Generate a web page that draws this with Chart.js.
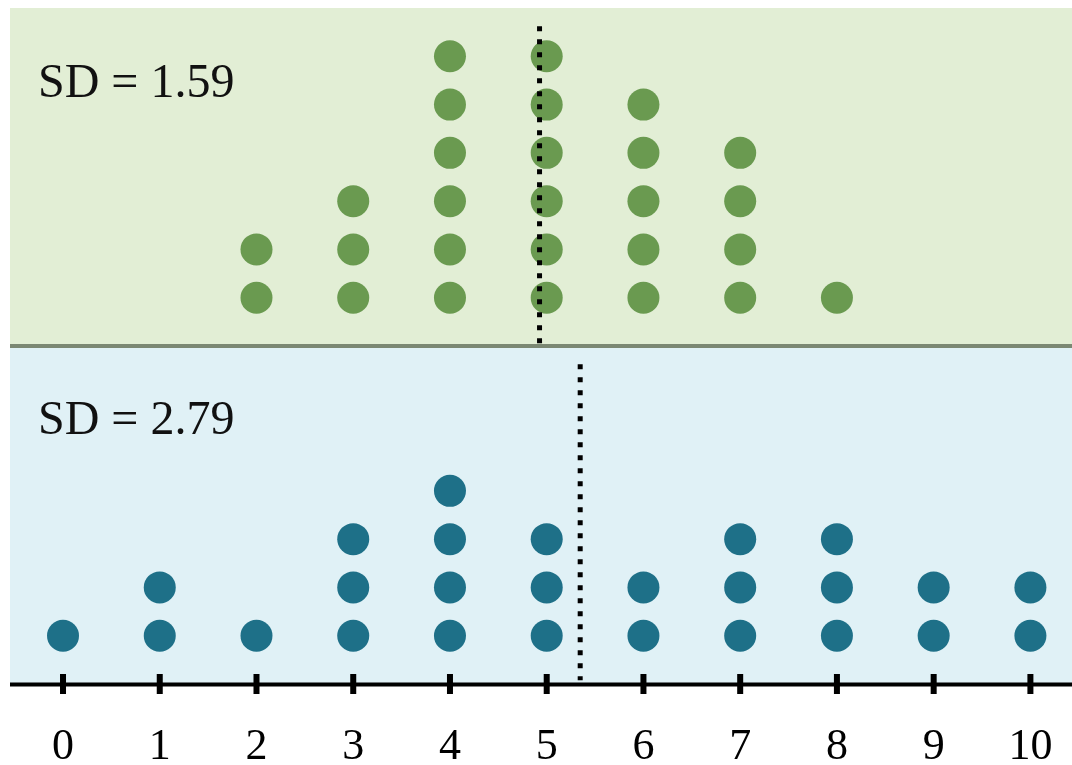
<!DOCTYPE html>
<html>
<head>
<meta charset="utf-8">
<script src="https://cdn.jsdelivr.net/npm/chart.js@4.4.0/dist/chart.umd.min.js"></script>
<style>
  html, body { margin: 0; padding: 0; background: #fff; }
  #wrap { width: 1072px; height: 765px; }
</style>
</head>
<body>
<div id="wrap"><canvas id="dotChart"></canvas></div>
<script>
// Values: how many dots sit at each x value
const xValues = [0, 1, 2, 3, 4, 5, 6, 7, 8, 9, 10];
const tickLabels = ['0', '1', '2', '3', '4', '5', '6', '7', '8', '9', '10'];
const topCounts = [0, 0, 2, 3, 6, 6, 5, 4, 1, 0, 0];
const bottomCounts = [1, 2, 1, 3, 4, 3, 2, 3, 3, 2, 2];
const sdLabels = ['SD = 1.59', 'SD = 2.79'];

const TOP_OFFSET = 7; // top panel stacks start above the divider
const SERIF = '"Liberation Serif", "DejaVu Serif", serif';

// one point per dot, stacked upward from the panel floor
function stackPoints(counts, offset) {
  const pts = [];
  counts.forEach((c, i) => {
    for (let k = 1; k <= c; k++) pts.push({ x: xValues[i], y: offset + k });
  });
  return pts;
}

function mean(counts) {
  let n = 0, s = 0;
  counts.forEach((c, i) => { n += c; s += c * xValues[i]; });
  return s / n;
}

const topMean = mean(topCounts);
const bottomMean = mean(bottomCounts);

// panel backgrounds, divider, axis line, tick marks and SD labels
const panels = {
  id: 'panels',
  beforeDatasetsDraw(chart) {
    const { ctx, chartArea: a, scales: { y } } = chart;
    const yDiv = y.getPixelForValue(TOP_OFFSET);
    ctx.save();
    ctx.fillStyle = '#e2eed5';
    ctx.fillRect(a.left, a.top, a.right - a.left, yDiv - a.top);
    ctx.fillStyle = '#e0f1f6';
    ctx.fillRect(a.left, yDiv, a.right - a.left, a.bottom - yDiv);
    ctx.fillStyle = '#7b8873';
    ctx.fillRect(a.left, yDiv - 2, a.right - a.left, 4);

    ctx.fillStyle = '#111';
    ctx.font = '48px ' + SERIF;
    ctx.textBaseline = 'alphabetic';
    ctx.fillText(sdLabels[0], a.left + 28, y.getPixelForValue(12.16));
    ctx.fillText(sdLabels[1], a.left + 28, y.getPixelForValue(5.17));
    ctx.restore();
  },
  afterDraw(chart) {
    const { ctx, chartArea: a, scales: { x } } = chart;
    ctx.save();
    ctx.fillStyle = '#000';
    ctx.fillRect(a.left, a.bottom - 1.5, a.right - a.left, 4);
    xValues.forEach(v => {
      const px = x.getPixelForValue(v);
      ctx.fillRect(px - 3, a.bottom - 10, 6, 20);
    });
    ctx.restore();
  }
};

new Chart(document.getElementById('dotChart'), {
  type: 'scatter',
  data: {
    datasets: [
      {
        label: 'top',
        data: stackPoints(topCounts, TOP_OFFSET),
        backgroundColor: '#6a9a50',
        borderWidth: 0,
        pointRadius: 16,
        order: 2
      },
      {
        label: 'bottom',
        data: stackPoints(bottomCounts, 0),
        backgroundColor: '#1e7088',
        borderWidth: 0,
        pointRadius: 16,
        order: 2
      },
      {
        type: 'line',
        label: 'top mean',
        data: [{ x: topMean, y: 13.62 }, { x: topMean, y: TOP_OFFSET + 0.02 }],
        borderColor: '#000',
        borderWidth: 5,
        borderDash: [5, 8],
        pointRadius: 0,
        order: 1
      },
      {
        type: 'line',
        label: 'bottom mean',
        data: [{ x: bottomMean, y: 6.62 }, { x: bottomMean, y: 0.08 }],
        borderColor: '#000',
        borderWidth: 5,
        borderDash: [5, 8],
        pointRadius: 0,
        order: 1
      }
    ]
  },
  options: {
    responsive: true,
    maintainAspectRatio: false,
    animation: false,
    layout: { autoPadding: false, padding: { left: 10, top: 8, right: 0, bottom: 0 } },
    plugins: { legend: { display: false }, tooltip: { enabled: false } },
    scales: {
      x: {
        type: 'linear',
        min: -0.548,
        max: 10.43,
        afterBuildTicks: (scale) => { scale.ticks = xValues.map(v => ({ value: v })); },
        afterFit: (scale) => {
          scale.height = 81;
          scale.paddingLeft = 0;
          scale.paddingRight = 0;
        },
        grid: { display: false, drawTicks: false },
        border: { display: false },
        ticks: {
          padding: 37,
          color: '#000',
          font: { family: SERIF, size: 44 },
          maxRotation: 0,
          callback: (v) => tickLabels[xValues.indexOf(v)]
        }
      },
      y: {
        display: false,
        min: 0,
        max: 14
      }
    }
  },
  plugins: [panels]
});
</script>
</body>
</html>
